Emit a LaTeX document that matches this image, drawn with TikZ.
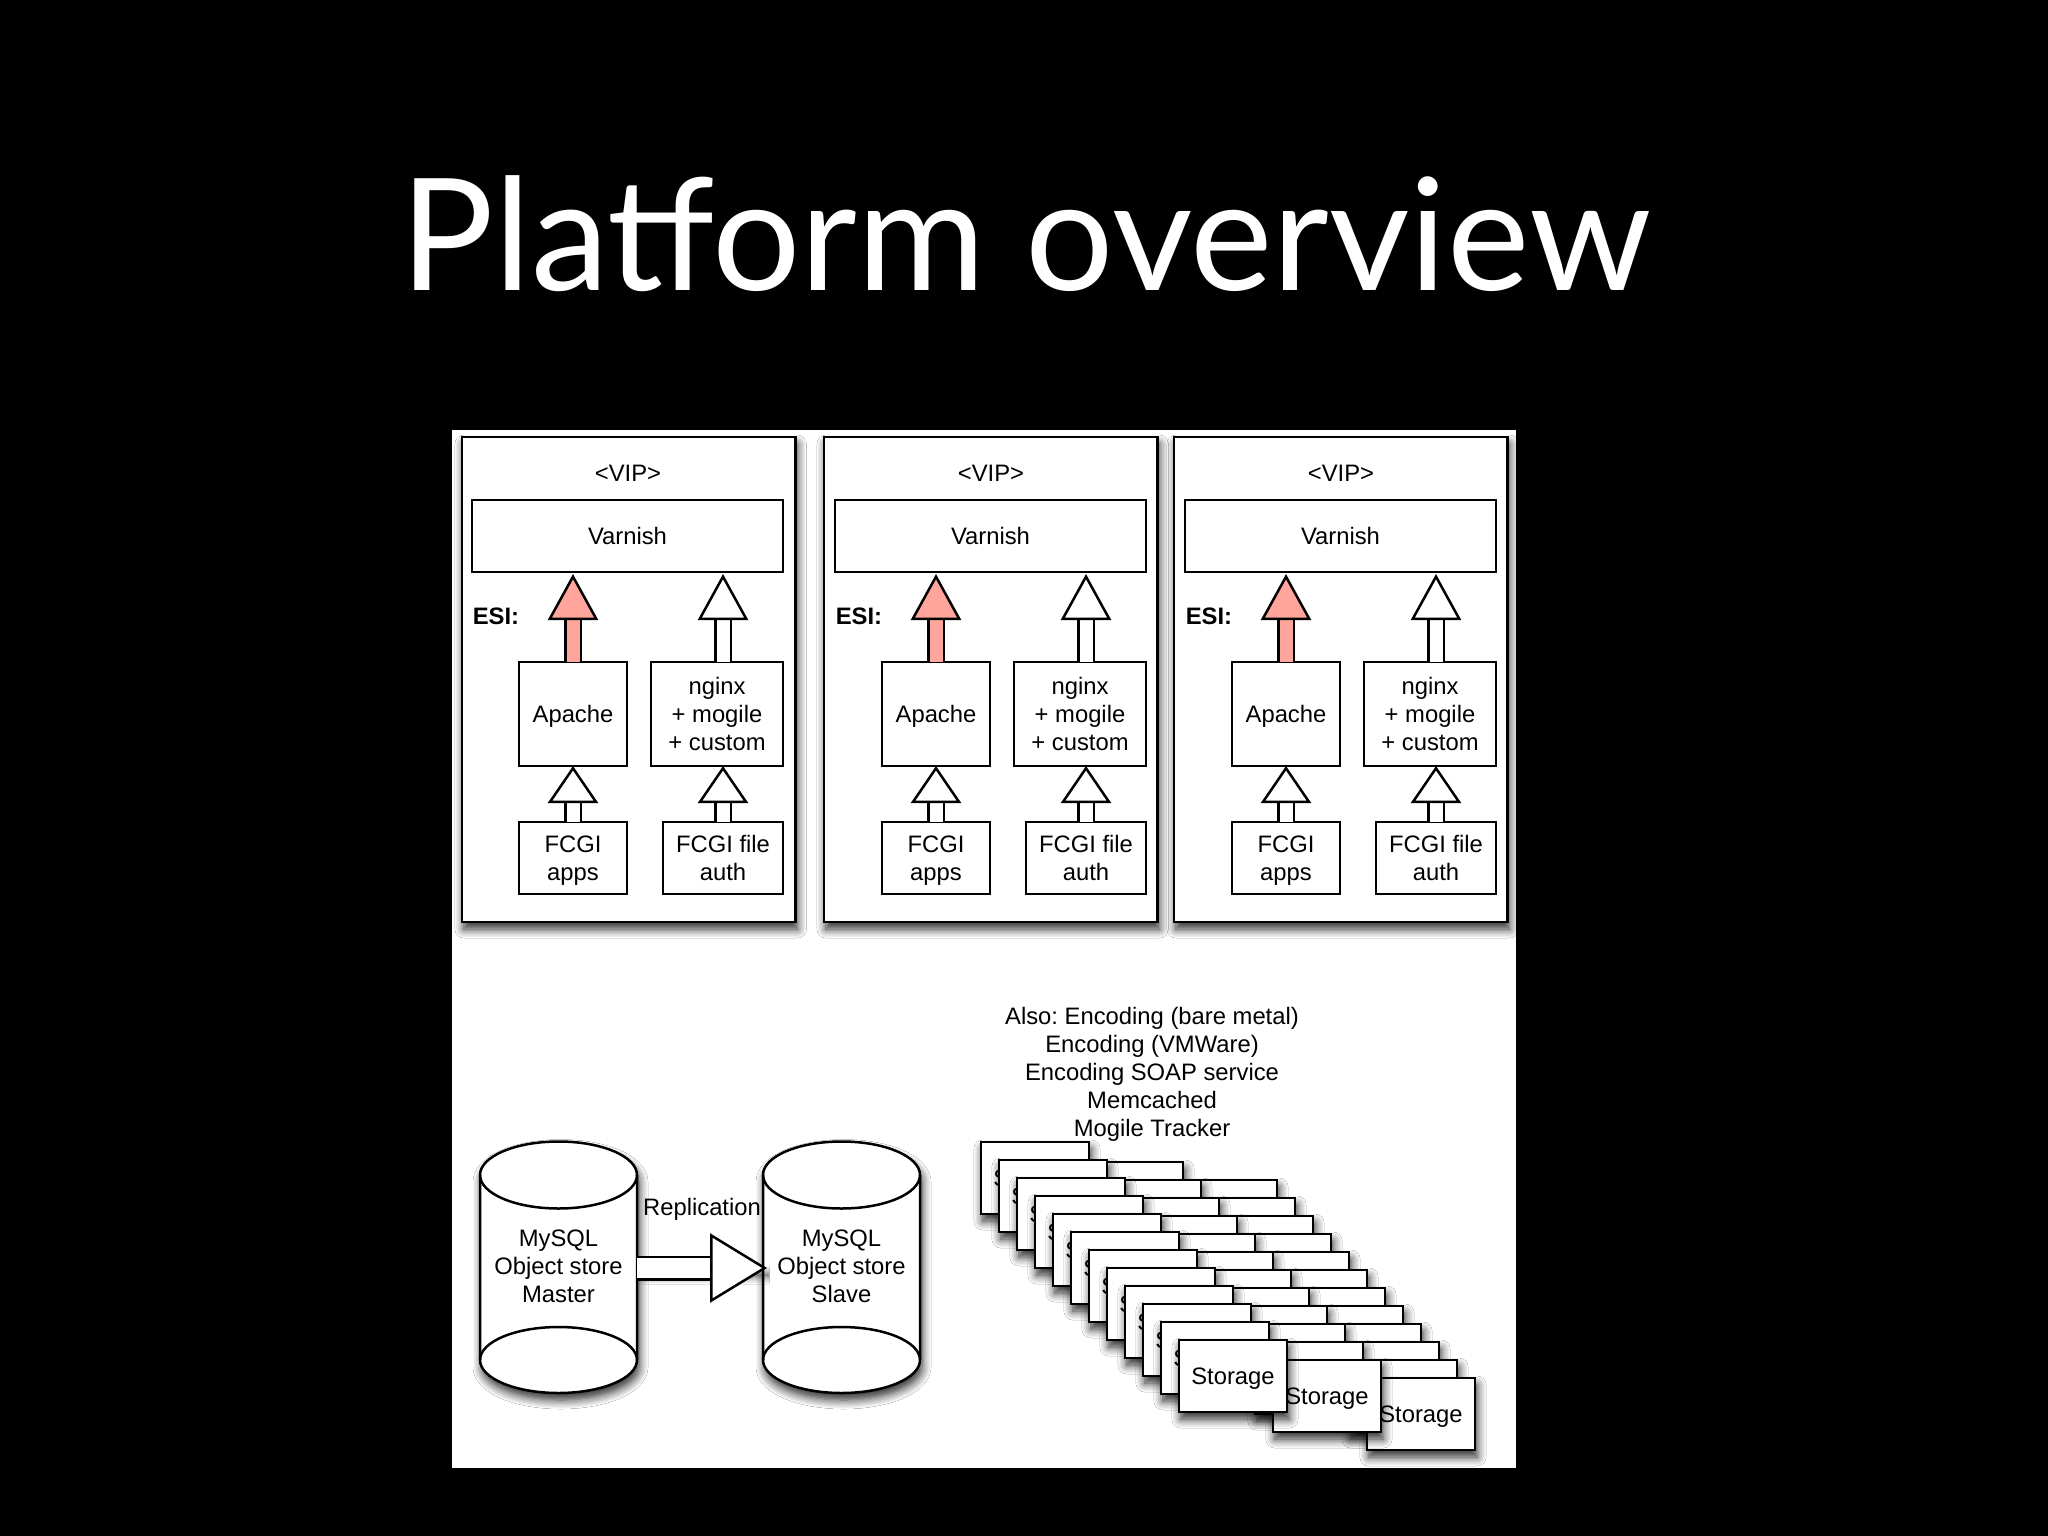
\documentclass[tikz,border=0pt]{standalone}
\usepackage{fontspec}
\setmainfont{Liberation Sans}
\newfontfamily\titlefont{Lato}
\usetikzlibrary{arrows.meta}
\usetikzlibrary{shadows.blur}
\definecolor{esipink}{HTML}{FFA59C}
\newcommand{\textsz}{\fontsize{23.8}{28}\selectfont\frenchspacing}
\newcommand{\lns}[1]{\rule{0pt}{22pt}#1\rule[-6pt]{0pt}{6pt}}
\tikzset{
  label/.style={inner sep=0pt,outer sep=0pt,align=center,font=\textsz},
  box/.style={label,draw,fill=white,line width=2.5pt},
  cast/.style={blur shadow={shadow xshift=2pt,shadow yshift=-7pt,shadow blur radius=9pt,shadow blur steps=8,shadow opacity=85}},
  fat/.style={line width=2.5pt,double=#1,double distance=13pt,
    -{Triangle[length=46pt,width=50pt,line width=2.5pt,fill=#1,color=black]}},
  fat/.default=white,
  fatlow/.style={line width=2.5pt,double=white,double distance=13pt,
    -{Triangle[length=37pt,width=50pt,line width=2.5pt,fill=white,color=black]}},
}
\begin{document}
\begin{tikzpicture}[x=1pt,y=-1pt]
\useasboundingbox (0,0) rectangle (2048,1536);
\fill[black] (0,0) rectangle (2048,1536);
\fill[white] (452,430) rectangle (1516,1468);
\node[text=white,inner sep=0pt,anchor=base,font=\titlefont\fontsize{156}{160}\selectfont] (title) at (1026,290) {Platform overview};

% web columns
\foreach \col/\dx/\ox in {a/0/0,b/363/-1,c/713/-1} {
  \begin{scope}[xshift=\dx pt]
    \node[box,cast,minimum width=333.5pt,minimum height=485pt] (outer\col) at (628.7+\ox,679.5) {};
    \node[label] (vip\col) at (628,473) {\lns{<VIP>}};
    \node[box,minimum width=311pt,minimum height=72pt] (varnish\col) at (627.5,536) {\lns{Varnish}};
    \node[box,minimum width=108pt,minimum height=104pt] (apache\col) at (573,714) {\lns{Apache}};
    \node[box,minimum width=132pt,minimum height=104pt] (nginx\col) at (717,714) {\lns{nginx\\+ mogile\\+ custom}};
    \node[box,minimum width=108pt,minimum height=72pt] (apps\col) at (573,858) {\lns{FCGI\\apps}};
    \node[box,minimum width=120pt,minimum height=72pt] (auth\col) at (723,858) {\lns{FCGI file\\auth}};
    \node[label,font=\textsz\bfseries] (esi\col) at (496,616) {\lns{ESI:}};

    \draw[fat=esipink,shorten >=2pt] (apache\col.north) -- (apache\col.north |- varnish\col.south);
    \draw[fat,shorten >=2pt] (auth\col.north |- nginx\col.north) -- (auth\col.north |- varnish\col.south);
    \draw[fatlow] (apps\col.north) -- (apache\col.south);
    \draw[fatlow] (auth\col.north) -- (auth\col.north |- nginx\col.south);
  \end{scope}
}

% other services
\node[label] (also) at (1152,1072) {\lns{Also: Encoding (bare metal)\\Encoding (VMWare)\\Encoding SOAP service\\Memcached\\Mogile Tracker}};

% storage stacks, back one first
\foreach \sx/\sy/\st in {188/38/c,94/20/b,0/0/a} {
  \foreach \i in {0,...,11} {
    \node[box,cast,minimum width=108.3pt,minimum height=72pt] (store\st\i) at ({1035+\sx+18*\i},{1178+\sy+18*\i}) {\lns{Storage}};
  }
}

% databases
\foreach \name/\cx/\first/\second/\third in {master/558.5/MySQL/Object store/Master,slave/841.5/MySQL/Object store/Slave} {
  \draw[line width=2.5pt,fill=white,cast]
    (\cx-78.5,1175) arc[start angle=180,end angle=360,x radius=78.5,y radius=33.5]
    -- (\cx+78.5,1360) arc[start angle=0,end angle=180,x radius=78.5,y radius=33] -- cycle;
  \draw[line width=2.5pt] (\cx-78.5,1175) arc[start angle=180,end angle=0,x radius=78.5,y radius=33.5];
  \draw[line width=2.5pt] (\cx-78.5,1360) arc[start angle=180,end angle=360,x radius=78.5,y radius=33];
  \node[label] (\name) at (\cx,1266) {\lns{\first\\\second\\\third}};
}
\coordinate (masteredge) at (637,1268);
\coordinate (slaveedge) at (767,1268);
\draw[line width=2.5pt,double=white,double distance=20pt,
  -{Triangle[length=57pt,width=69pt,line width=2.5pt,fill=white,color=black]},cast]
  (masteredge) -- (slaveedge);
\node[label] (replication) at (702,1207) {\lns{Replication}};
\end{tikzpicture}
\end{document}
